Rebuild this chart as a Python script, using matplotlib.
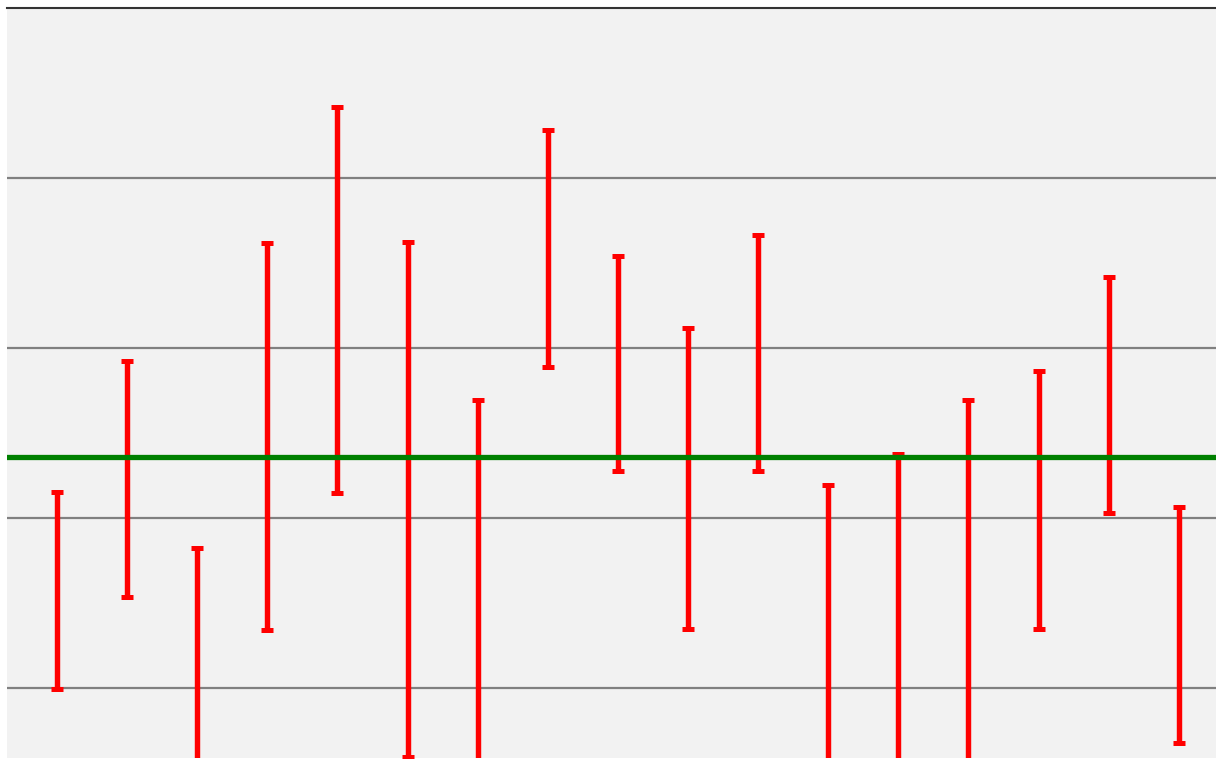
import matplotlib
matplotlib.use("Agg")
import matplotlib.pyplot as plt
import numpy as np

# one error bar per group: centre value and half-length
groups = list(range(17))
means = [0.574, 1.229, -0.424, 1.479, 2.282, 1.109, 0.371, 2.585, 1.909,
         1.232, 1.971, 0.182, 0.429, 0.494, 1.106, 1.724, 0.371]
errs = [0.579, 0.694, 1.247, 1.138, 1.135, 1.515, 1.324, 0.697, 0.632,
        0.885, 0.694, 1.012, 0.947, 1.200, 0.759, 0.694, 0.694]
grid_levels = [0, 1, 2, 3]
ref_level = 1.359

W, H = 1216, 765
fig = plt.figure(figsize=(W / 100, H / 100), dpi=100)
ax = fig.add_axes([7 / W, 7 / H, 1220 / W, 750 / H])
ax.set_facecolor("#f2f2f2")

ax.errorbar(groups, means, yerr=errs, fmt="none", ecolor="red",
            elinewidth=3.9, capsize=4.4, capthick=3.6, zorder=3)
ax.axhline(ref_level, color="green", lw=3.8, zorder=4)

ax.set_xlim(-0.713, 16.687)
ax.set_ylim(-0.412, 4.0)
ax.set_yticks(grid_levels)
ax.set_xticks([])
ax.grid(axis="y", color="#808080", lw=1.6, zorder=1)
ax.set_axisbelow(True)
ax.tick_params(length=0, labelleft=False, labelbottom=False)

for side in ["left", "right", "bottom"]:
    ax.spines[side].set_visible(False)
ax.spines["top"].set_color("#333333")
ax.spines["top"].set_linewidth(1.5)

fig.savefig("out.png", dpi=100)
